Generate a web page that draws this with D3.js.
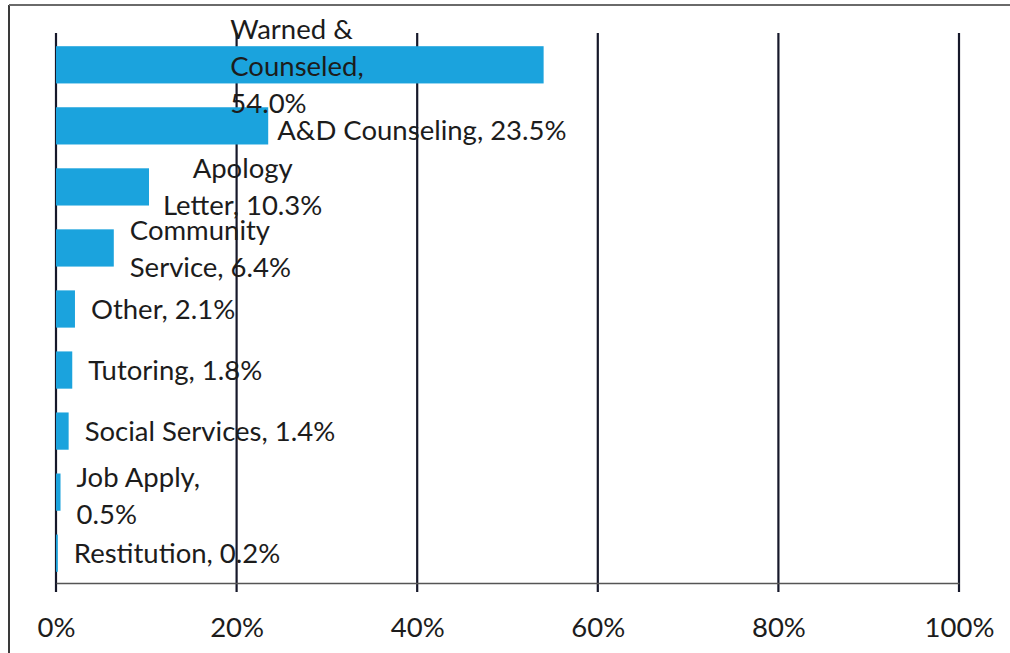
<!DOCTYPE html>
<html>
<head>
<meta charset="utf-8">
<script src="https://cdn.jsdelivr.net/npm/d3@7"></script>
<style>
  html, body { margin: 0; padding: 0; background: #fff; }
  svg { display: block; }
  text { font-family: Lato, "Open Sans", sans-serif; fill: #1c1c1c; }
</style>
</head>
<body>
<svg id="chart" width="1010" height="653"></svg>
<script>
// ---- data ----
const categories = ["Warned & Counseled", "A&D Counseling", "Apology Letter", "Community Service",
  "Other", "Tutoring", "Social Services", "Job Apply", "Restitution"];
const values = [54.0, 23.5, 10.3, 6.4, 2.1, 1.8, 1.4, 0.5, 0.2];
// label text, "\n" = line break, {v} = value
const labelTemplates = ["Warned &\nCounseled,\n{v}", "A&D Counseling, {v}", "Apology\nLetter, {v}",
  "Community\nService, {v}", "Other, {v}", "Tutoring, {v}", "Social Services, {v}",
  "Job Apply,\n{v}", "Restitution, {v}"];
const xTickValues = [0, 20, 40, 60, 80, 100];

// ---- layout / style ----
const W = 1010, H = 653;
const fontSize = 27.5, lineH = 37;
const barColor = "#1ba3dd";
const svg = d3.select("#chart");

const x = d3.scaleLinear().domain([0, 100]).range([56, 959]);
const y = d3.scaleBand().domain(categories).range([34, 584]).paddingInner(0.39).paddingOuter(0.2);

// outer frame (left & top edges visible)
svg.append("line").attr("x1", 9).attr("x2", 9).attr("y1", 5).attr("y2", H)
  .attr("stroke", "#3a3a3a").attr("stroke-width", 2);
svg.append("line").attr("x1", 9).attr("x2", W).attr("y1", 5).attr("y2", 5)
  .attr("stroke", "#6a6a6a").attr("stroke-width", 2);

// gridlines
svg.append("g").selectAll("line").data(xTickValues).join("line")
  .attr("x1", d => x(d)).attr("x2", d => x(d))
  .attr("y1", 33).attr("y2", 592)
  .attr("stroke", "#16182a").attr("stroke-width", 2.2);

// x axis
const axis = svg.append("g").attr("transform", "translate(0,583)")
  .call(d3.axisBottom(x).tickValues(xTickValues).tickFormat(d => d + "%").tickSize(0).tickPadding(34));
axis.select(".domain").attr("stroke", "#555").attr("stroke-width", 1.6);
axis.selectAll("text").attr("font-size", fontSize).attr("font-family", "Lato, sans-serif").attr("fill", "#1c1c1c");

// bars
svg.append("g").selectAll("rect").data(values).join("rect")
  .attr("x", x(0))
  .attr("y", (d, i) => y(categories[i]))
  .attr("width", d => x(d) - x(0))
  .attr("height", y.bandwidth())
  .attr("fill", barColor);

// labels
const labelAdjust = {
  0: { xAt: 19.3, align: "start", dy: 1 },
  1: { dy: 4, dx: -7 },
  2: { align: "middle", dy: 0, dx: -2 },
  3: { dy: 1 },
  7: { dy: 3 }
};
const lg = svg.append("g");
values.forEach((v, i) => {
  const lines = labelTemplates[i].replace("{v}", v.toFixed(1) + "%").split("\n");
  const adj = labelAdjust[i] || {};
  const cy = y(categories[i]) + y.bandwidth() / 2 + (adj.dy || 0);
  const x0 = adj.xAt !== undefined ? x(adj.xAt) : x(v) + 16 + (adj.dx || 0);
  const t = lg.append("text").attr("font-size", fontSize);
  const n = lines.length;
  lines.forEach((ln, k) => {
    t.append("tspan").attr("x", x0)
      .attr("y", cy + (k - (n - 1) / 2) * lineH)
      .attr("dy", "0.36em").text(ln);
  });
  if (adj.align === "middle") {
    const widths = [];
    t.selectAll("tspan").each(function () { widths.push(this.getComputedTextLength()); });
    const maxW = d3.max(widths);
    t.selectAll("tspan").attr("x", x0 + maxW / 2).attr("text-anchor", "middle");
  }
});
</script>
</body>
</html>
